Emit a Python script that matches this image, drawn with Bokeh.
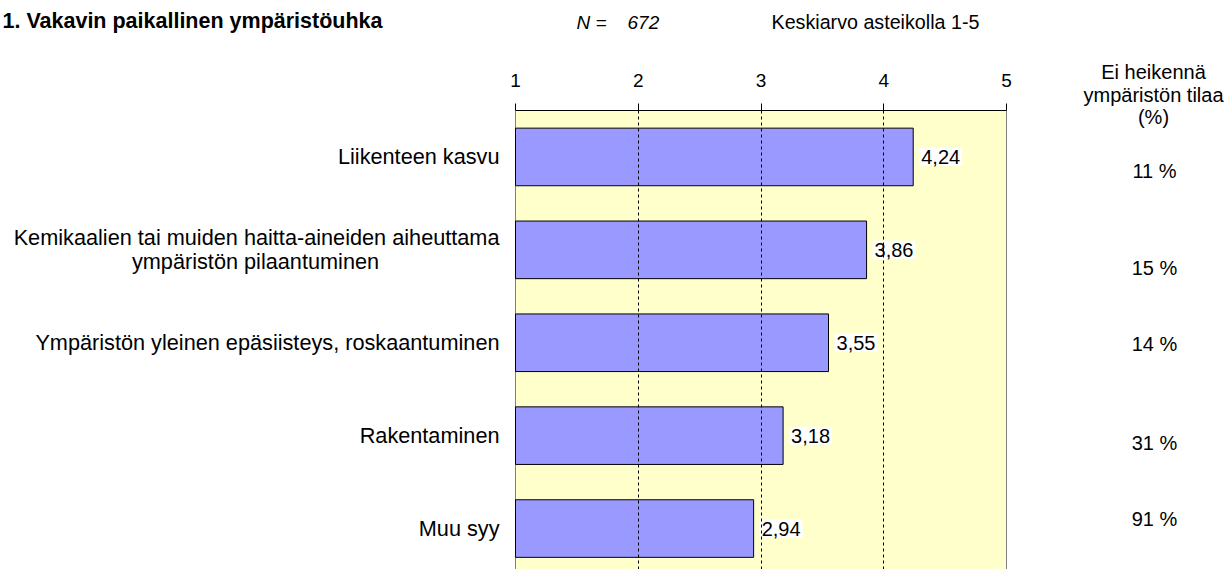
from bokeh.plotting import figure
from bokeh.layouts import row, column
from bokeh.models import Range1d, FixedTicker, Span, BoxAnnotation, ColumnDataSource
from bokeh.core.properties import value
from bokeh.embed import file_html
from bokeh.resources import INLINE

# ---------------- data ----------------
title_text = "1. Vakavin paikallinen ympäristöuhka"
n_label = "N ="
n_value = "672"
scale_note = "Keskiarvo asteikolla 1-5"
right_header = ["Ei heikennä", "ympäristön tilaa", "(%)"]

categories = [
    "Liikenteen kasvu",
    "Kemikaalien tai muiden haitta-aineiden aiheuttama\nympäristön pilaantuminen",
    "Ympäristön yleinen epäsiisteys, roskaantuminen",
    "Rakentaminen",
    "Muu syy",
]
means = [4.24, 3.86, 3.55, 3.18, 2.94]
no_harm_pct = [11, 15, 14, 31, 91]
x_ticks = [1, 2, 3, 4, 5]
grid_ticks = [2, 3, 4]

# ---------------- layout constants ----------------
FONT = "Liberation Sans"
W, H = 1231, 569
LEFT_W = 1040            # width of the header + main chart column
HEAD_H = 45              # height of the title strip
FRAME_TOP = 110          # page px of the plot-area top
PX_PER_UNIT = 122.75
BAND = 92.9
X1_PAGE = 515            # page px of scale value 1
X_START = 1 - X1_PAGE / PX_PER_UNIT
X_END = X_START + LEFT_W / PX_PER_UNIT
Y_TOP = -0.5
Y_BOTTOM = Y_TOP + (H - FRAME_TOP) / BAND


def row_y(py):
    """page y pixel -> category-row coordinate"""
    return Y_TOP + (py - FRAME_TOP) / BAND


pct_dy = [14, 18, 1, 7, -10]     # pixel nudges of the % column

common = dict(toolbar_location=None, output_backend="svg", title=None,
              min_border_left=0, min_border_right=0, min_border_bottom=0,
              outline_line_color=None, background_fill_color="white",
              border_fill_color="white")

# ---------------- title strip ----------------
head = figure(width=LEFT_W, height=HEAD_H, x_range=Range1d(0, LEFT_W),
              y_range=Range1d(HEAD_H, 0), x_axis_location=None,
              y_axis_location=None, min_border_top=0, **common)
head.grid.visible = False
head.text(x=[2], y=[20.5], text=[title_text], text_font=value(FONT),
          text_font_size="21.5px", text_font_style="bold",
          text_baseline="middle", text_align="left", text_color="black")
head.text(x=[576, 627], y=[21.5, 21.5], text=[n_label, n_value], text_font=value(FONT),
          text_font_size="19px", text_font_style="italic",
          text_baseline="middle", text_align="left", text_color="black")
head.text(x=[771], y=[21.5], text=[scale_note], text_font=value(FONT),
          text_font_size="19.7px", text_baseline="middle",
          text_align="left", text_color="black")

# ---------------- main chart ----------------
p = figure(width=LEFT_W, height=H - HEAD_H,
           x_range=Range1d(X_START, X_END), y_range=Range1d(Y_BOTTOM, Y_TOP),
           x_axis_location="above", y_axis_location=None,
           min_border_top=FRAME_TOP - HEAD_H, **common)

p.add_layout(BoxAnnotation(left=x_ticks[0], right=x_ticks[-1], fill_color="#FFFFCC",
                           fill_alpha=1, line_alpha=0, level="underlay"))
for xv in (x_ticks[0], x_ticks[-1]):
    p.add_layout(Span(location=xv, dimension="height", line_color="#808080",
                      line_width=1, level="underlay"))

p.ygrid.visible = False
p.xgrid.ticker = FixedTicker(ticks=grid_ticks)
p.xgrid.grid_line_color = "black"
p.xgrid.grid_line_dash = "3 3"
p.xgrid.grid_line_width = 1
p.xgrid.level = "glyph"

ax = p.xaxis[0]
ax.ticker = FixedTicker(ticks=x_ticks)
ax.bounds = (x_ticks[0], x_ticks[-1])
ax.major_tick_out = 7
ax.major_tick_in = 0
ax.minor_tick_line_color = None
ax.axis_line_color = "black"
ax.major_tick_line_color = "black"
ax.major_label_text_font = FONT
ax.major_label_text_font_size = "19px"
ax.major_label_text_color = "black"
ax.major_label_standoff = 17

idx = list(range(len(categories)))
src = ColumnDataSource(dict(
    y=idx, mean=means,
    lbl=[f"{v:.2f}".replace(".", ",") for v in means],
    pct=[f"{v} %" for v in no_harm_pct],
    pct_dy=pct_dy,
))

p.hbar(y="y", left=x_ticks[0], right="mean", height=0.62, source=src,
       fill_color="#9999FF", line_color="black", line_width=1)

p.text(x="mean", y="y", text="lbl", source=src, x_offset=6,
       text_align="left", text_baseline="middle", text_font=value(FONT),
       text_font_size="20px", text_color="black",
       background_fill_color="white", padding=2)

# category labels (multi-line: first line right aligned, rest centred under it)
first_y, first_t, first_off = [], [], []
cont_y, cont_t, cont_off = [], [], []
LINE = 24
for i, cat in enumerate(categories):
    lines = cat.split("\n")
    n = len(lines)
    for k, ln in enumerate(lines):
        off = (k - (n - 1) / 2) * LINE
        if k == 0:
            first_y.append(i); first_t.append(ln); first_off.append(off)
        else:
            cont_y.append(i); cont_t.append(ln); cont_off.append(off)

p.text(x=x_ticks[0], y=first_y, text=first_t, y_offset=first_off, x_offset=-16,
       text_align="right", text_baseline="middle", text_font=value(FONT),
       text_font_size="21.7px", text_color="black")
p.text(x=x_ticks[0], y=cont_y, text=cont_t, y_offset=cont_off, x_offset=-260,
       text_align="center", text_baseline="middle", text_font=value(FONT),
       text_font_size="21.7px", text_color="black")

# ---------------- right column ----------------
rc = figure(width=W - LEFT_W, height=H, x_range=Range1d(LEFT_W, W),
            y_range=Range1d(row_y(H), row_y(0)), x_axis_location=None,
            y_axis_location=None, min_border_top=0, **common)
rc.grid.visible = False
rc.text(x=[1153] * len(right_header),
        y=[row_y(71.5 + 22.5 * k) for k in range(len(right_header))],
        text=right_header, text_font=value(FONT), text_font_size="20px",
        text_baseline="middle", text_align="center", text_color="black")
rc.text(x=1154, y="y", text="pct", y_offset="pct_dy", source=src,
        text_align="center", text_baseline="middle", text_font=value(FONT),
        text_font_size="20px", text_color="black")

layout = row(column(head, p, spacing=0), rc, spacing=0)
open("out.html", "w").write(file_html(layout, INLINE))
